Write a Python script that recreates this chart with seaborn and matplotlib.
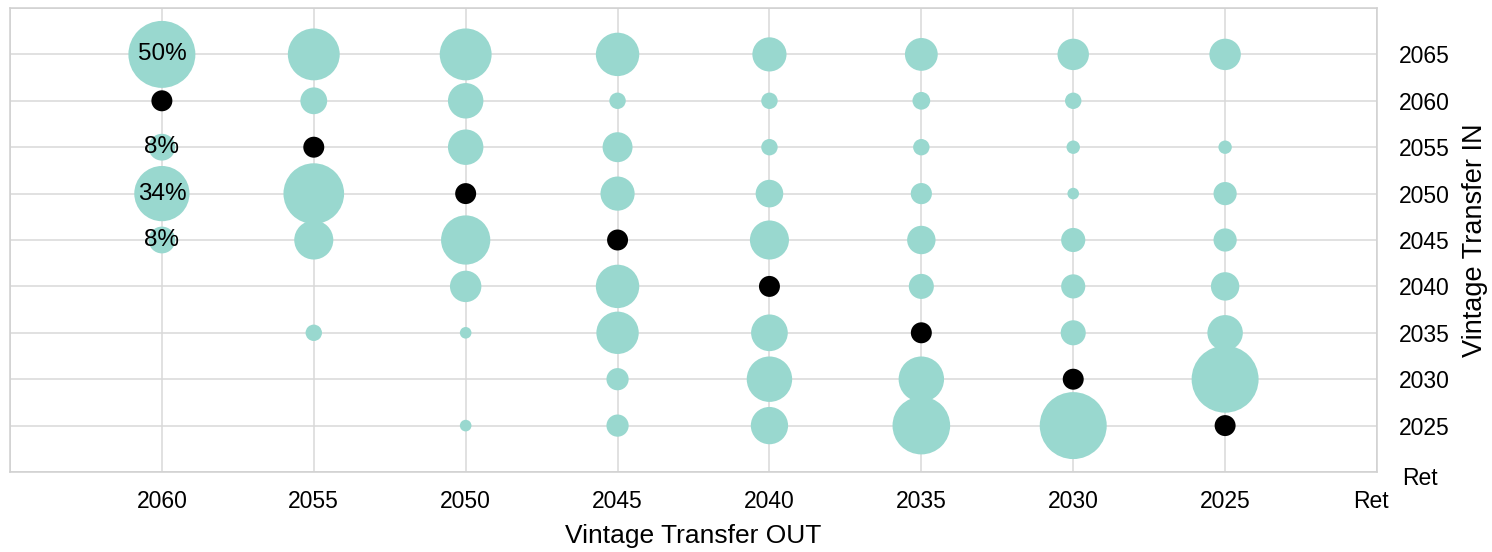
import numpy as np
import pandas as pd
import matplotlib
matplotlib.use("Agg")
import matplotlib.pyplot as plt
import matplotlib.transforms as mtransforms
import seaborn as sns

# Vintage transfer shares: for each OUT vintage, share (%) sent to each IN vintage.
out_vintages = ["2060", "2055", "2050", "2045", "2040", "2035", "2030", "2025"]
in_vintages = ["2065", "2060", "2055", "2050", "2045", "2040", "2035", "2030", "2025"]

share_2060 = [50, None, 8, 34, 8, 0, 0, 0, 0]
share_2055 = [30, 8, None, 41, 17, 0, 3, 0, 0]
share_2050 = [30, 14, 14, None, 27, 11, 1.5, 0, 1.5]
share_2045 = [21, 3, 10, 13, None, 21, 20, 5.5, 5.5]
share_2040 = [13, 3, 3, 8.5, 17, None, 15, 23, 15.5]
share_2035 = [12, 3.5, 3, 5, 9, 7, None, 23, 37]
share_2030 = [11, 3, 2, 1.5, 6.5, 6.5, 7, None, 61]
share_2025 = [11, 0, 2, 6, 6, 9, 14, 50, None]

shares = [share_2060, share_2055, share_2050, share_2045,
          share_2040, share_2035, share_2030, share_2025]

# Only the first OUT vintage carries value labels
labelled_out = "2060"

x_tick_labels = out_vintages + ["Ret"]
y_tick_labels = ["Ret"] + in_vintages[::-1]

# Long-form tables: transfers (bubbles) and vintages that stay (diagonal dots)
x_pos = {v: i + 1 for i, v in enumerate(out_vintages)}
y_pos = {v: len(in_vintages) - i for i, v in enumerate(in_vintages)}

rows, stays = [], []
for out_v, col in zip(out_vintages, shares):
    for in_v, val in zip(in_vintages, col):
        if val is None:
            stays.append({"out": x_pos[out_v], "in": y_pos[in_v]})
        elif val > 0:
            rows.append({"out": x_pos[out_v], "in": y_pos[in_v],
                         "share": val, "out_label": out_v})
transfers = pd.DataFrame(rows)
stay_df = pd.DataFrame(stays)

sns.set_style("white")
plt.rcParams["font.family"] = ["Liberation Sans", "DejaVu Sans"]

fig = plt.figure(figsize=(14.92, 5.52), dpi=100)
ax = fig.add_axes([10 / 1492, 1 - 472 / 552, 1367 / 1492, 464 / 552])

bubble_color = "#99d8cf"
max_share = 50
max_area = 46.5 * max_share   # points^2 for a 50% bubble (area proportional to share)

sns.scatterplot(data=transfers, x="out", y="in", size="share",
                sizes=(0, max_area), size_norm=(0, max_share),
                color=bubble_color, edgecolor="none", linewidth=0,
                legend=False, ax=ax, zorder=3, alpha=1)
sns.scatterplot(data=stay_df, x="out", y="in", s=228, color="black",
                edgecolor="none", linewidth=0, legend=False, ax=ax, zorder=4)

for _, r in transfers[transfers["out_label"] == labelled_out].iterrows():
    ax.text(r["out"], r["in"], f"{r['share']:g}%", ha="center", va="center",
            fontsize=17.5, color="black", zorder=5)

ax.set_xlim(0, len(out_vintages) + 1)
ax.set_ylim(0, len(in_vintages) + 1)

ax.set_xticks(np.arange(1, len(x_tick_labels) + 1))
ax.set_xticklabels(x_tick_labels)
ax.set_yticks(np.arange(0, len(y_tick_labels)))
ax.set_yticklabels(y_tick_labels)

# Gridlines on every integer position, including the frame edges
ax.set_axisbelow(True)
for v in range(0, len(out_vintages) + 2):
    ax.axvline(v, color="#d9d9d9", lw=1.1, zorder=1)
for v in range(0, len(in_vintages) + 2):
    ax.axhline(v, color="#d9d9d9", lw=1.1, zorder=1)
for s in ax.spines.values():
    s.set_color("#d0d0d0")
    s.set_linewidth(1.1)

ax.yaxis.tick_right()
ax.tick_params(axis="x", length=0, pad=13, labelsize=16.5, labelcolor="black")
ax.tick_params(axis="y", length=0, pad=34, labelsize=16.5, labelcolor="black")
for lbl in ax.get_yticklabels():
    lbl.set_horizontalalignment("center")

# The "Ret" end labels sit slightly off the frame corner
ret_x = ax.get_xticklabels()[-1]
ret_x.set_transform(ret_x.get_transform() +
                    mtransforms.ScaledTranslation(-6 / 100, 0, fig.dpi_scale_trans))
ret_y = ax.get_yticklabels()[0]
ret_y.set_transform(ret_y.get_transform() +
                    mtransforms.ScaledTranslation(-4 / 100, -4 / 100, fig.dpi_scale_trans))

ax.set_xlabel("Vintage Transfer OUT", fontsize=19, labelpad=8, color="black")
ax.yaxis.set_label_position("right")
ax.set_ylabel("Vintage Transfer IN", fontsize=19.5, color="black")
ax.yaxis.label.set_verticalalignment("center")
ax.yaxis.label.set_horizontalalignment("center")
ax.yaxis.set_label_coords((1475 - 10) / 1367, 0.5)

fig.savefig("out.png", dpi=100)
